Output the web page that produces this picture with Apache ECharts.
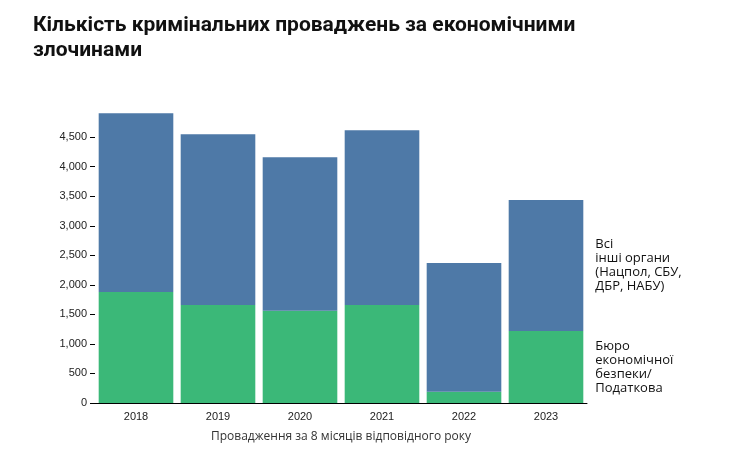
<!DOCTYPE html>
<html><head><meta charset="utf-8">
<script src="https://cdn.jsdelivr.net/npm/echarts@6/dist/echarts.min.js"></script>
<style>body{margin:0}#c{width:753px;height:453px}</style></head>
<body><div id="c"></div>
<script>
const years=['2018','2019','2020','2021','2022','2023'];
const bureau=[1880,1660,1560,1660,190,1220];
const totals=[4905,4550,4160,4620,2370,3435];
const others=totals.map((t,i)=>t-bureau[i]);
const last=years.length-1;
function lab(txt){return {show:true,position:'right',distance:12,align:'left',formatter:txt,color:'#111',fontSize:13,fontFamily:'Open Sans',lineHeight:14};}
const chart=echarts.init(document.getElementById('c'));
chart.setOption({
 animation:false,
 title:{text:'Кількість кримінальних проваджень за економічними\nзлочинами',left:28,top:8,textStyle:{fontSize:21,fontWeight:'bold',color:'#111',fontFamily:'Roboto',lineHeight:25}},
 grid:{left:95,right:166,top:113,bottom:50},
 xAxis:{type:'category',data:years,name:'Провадження за 8 місяців відповідного року',nameLocation:'middle',nameGap:28,
  nameTextStyle:{fontSize:12,color:'#333',fontFamily:'Open Sans'},
  axisLine:{lineStyle:{color:'#000'}},axisTick:{lineStyle:{color:'#000'}},axisLabel:{color:'#222',fontSize:11}},
 yAxis:{type:'value',min:0,max:4910,interval:500,splitLine:{show:false},
  axisLine:{show:false},axisTick:{show:true,lineStyle:{color:'#000'}},
  axisLabel:{showMaxLabel:false,color:'#222',fontSize:11}},
 series:[
  {type:'bar',stack:'a',barCategoryGap:'9%',itemStyle:{color:'#3bb878'},
   data:bureau.map((v,i)=>i===last?{value:v,label:lab('Бюро\nекономічної\nбезпеки/\nПодаткова')}:v)},
  {type:'bar',stack:'a',itemStyle:{color:'#4e79a7'},
   data:others.map((v,i)=>i===last?{value:v,label:lab('Всі\nінші органи\n(Нацпол, СБУ,\nДБР, НАБУ)')}:v)}
 ]
});
</script></body></html>
